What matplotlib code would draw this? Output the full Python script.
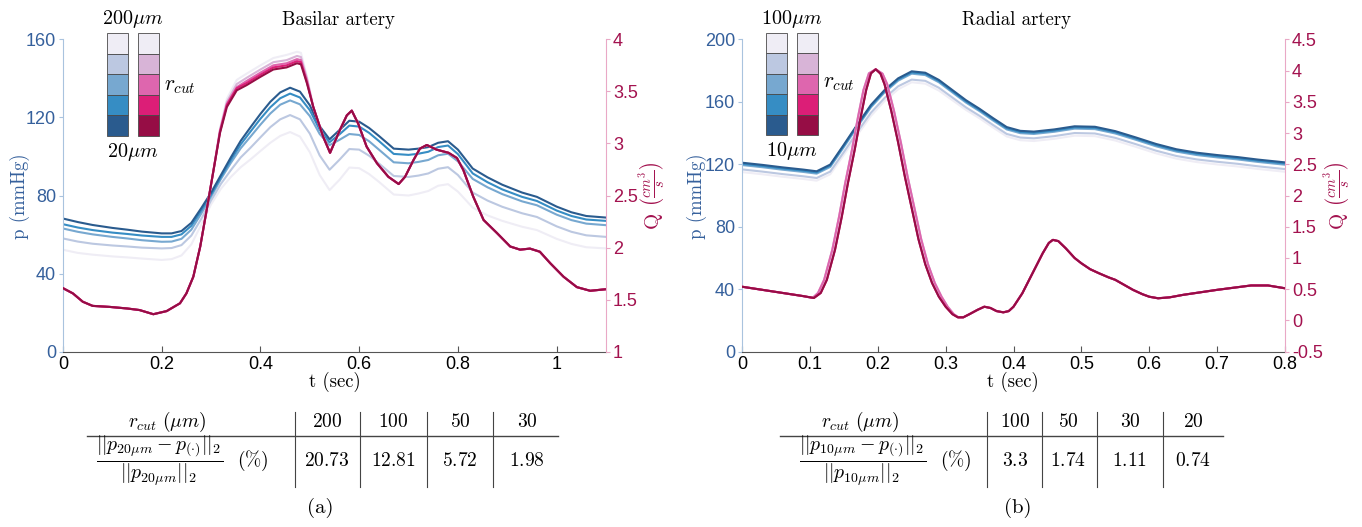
import matplotlib
matplotlib.use("Agg")
import matplotlib.pyplot as plt
from matplotlib.patches import Rectangle
from matplotlib.lines import Line2D
from matplotlib.ticker import FormatStrFormatter

plt.rcParams["mathtext.fontset"] = "cm"
plt.rcParams["font.family"] = "Liberation Sans"
plt.rcParams["lines.solid_joinstyle"] = "round"

W, H = 1362, 527

# ---------------- data : basilar artery (a) ----------------
t_pa = [0, 0.03, 0.06, 0.1, 0.13, 0.16, 0.2, 0.22, 0.24, 0.26, 0.28, 0.3, 0.32, 0.34,
        0.36, 0.38, 0.4, 0.42, 0.44, 0.46, 0.48, 0.5, 0.52, 0.54, 0.56, 0.58, 0.6, 0.62,
        0.64, 0.67, 0.7, 0.72, 0.74, 0.76, 0.78, 0.8, 0.83, 0.86, 0.89, 0.93, 0.96, 1.0,
        1.03, 1.06, 1.1]
p_a_20 = [68.2, 66.4, 64.9, 63.4, 62.5, 61.5, 60.6, 60.6, 61.8, 66.0, 73.5, 81.5, 90.5, 99.5,
          108.0, 115.0, 121.8, 128.0, 132.8, 135.2, 133.2, 126.2, 115.5, 108.8, 113.5, 118.3,
          117.8, 114.6, 110.5, 104.0, 103.5, 104.0, 104.8, 107.0, 107.8, 103.5, 93.8, 89.3,
          85.5, 81.5, 79.3, 74.3, 71.4, 69.5, 68.7]
p_a_30 = [65.3, 63.6, 62.3, 61.0, 60.3, 59.5, 58.8, 58.8, 60.1, 64.5, 72.3, 80.5, 89.5, 98.2,
          106.2, 112.8, 119.3, 125.2, 129.8, 132.2, 130.2, 123.7, 113.7, 107.3, 111.3, 115.8,
          115.3, 112.1, 107.9, 101.3, 100.8, 101.4, 102.4, 104.8, 105.6, 101.2, 91.3, 86.8,
          83.1, 79.3, 77.2, 72.3, 69.5, 67.7, 67.0]
p_a_50 = [63.1, 61.4, 60.1, 58.8, 58.0, 57.1, 56.3, 56.4, 57.8, 62.5, 70.7, 79.5, 88.5, 96.7,
          104.2, 110.2, 116.3, 122.0, 126.5, 128.7, 126.7, 120.7, 111.5, 105.8, 108.5, 111.5,
          111.0, 107.8, 103.5, 97.0, 96.5, 97.2, 98.2, 100.6, 101.4, 97.5, 88.5, 84.2, 80.7,
          77.0, 75.0, 70.2, 67.4, 65.6, 64.8]
p_a_100 = [58.0, 56.4, 55.3, 54.4, 53.9, 53.3, 52.9, 53.1, 54.6, 59.5, 68.0, 77.5, 86.0, 93.0,
           99.5, 104.5, 109.8, 115.0, 119.0, 121.2, 119.0, 111.7, 100.5, 93.2, 98.3, 103.8,
           103.5, 100.4, 96.4, 90.0, 89.5, 90.2, 91.3, 93.7, 94.5, 90.5, 81.5, 77.4, 74.2,
           70.9, 69.0, 64.2, 61.4, 59.6, 58.8]
p_a_200 = [52.2, 50.6, 49.7, 48.8, 48.3, 47.7, 47.0, 47.4, 49.3, 55.0, 65.0, 75.5, 83.5, 89.5,
           94.5, 98.5, 102.8, 107.0, 110.5, 112.5, 110.2, 102.2, 90.5, 82.8, 88.0, 94.3, 94.0,
           91.0, 87.0, 80.5, 80.0, 81.0, 82.3, 85.0, 85.8, 82.0, 73.8, 69.8, 67.0, 64.0, 62.3,
           57.8, 55.2, 53.5, 52.9]

t_qa = [0, 0.02, 0.04, 0.06, 0.095, 0.13, 0.155, 0.183, 0.21, 0.237, 0.25, 0.264, 0.278,
        0.291, 0.305, 0.318, 0.332, 0.352, 0.372, 0.4, 0.426, 0.453, 0.474, 0.482, 0.494,
        0.507, 0.527, 0.541, 0.561, 0.575, 0.585, 0.598, 0.615, 0.636, 0.659, 0.68, 0.693,
        0.71, 0.723, 0.737, 0.757, 0.781, 0.798, 0.811, 0.831, 0.852, 0.879, 0.906, 0.926,
        0.946, 0.966, 0.987, 1.014, 1.041, 1.068, 1.1]
q_a_20 = [1.61, 1.56, 1.48, 1.44, 1.43, 1.415, 1.40, 1.36, 1.39, 1.465, 1.56, 1.72, 2.01,
          2.36, 2.745, 3.10, 3.35, 3.51, 3.56, 3.64, 3.71, 3.73, 3.77, 3.76, 3.58, 3.35, 3.065,
          2.91, 3.13, 3.27, 3.315, 3.19, 2.97, 2.81, 2.68, 2.61, 2.68, 2.84, 2.95, 2.985, 2.94,
          2.91, 2.86, 2.745, 2.49, 2.265, 2.14, 2.01, 1.98, 1.99, 1.96, 1.85, 1.72, 1.62,
          1.585, 1.60]
# systolic plateau (t_qa[15:25]) for the coarser trees
q_a_top_30 = [3.11, 3.37, 3.53, 3.58, 3.66, 3.73, 3.75, 3.79, 3.78, 3.59]
q_a_top_50 = [3.12, 3.38, 3.54, 3.60, 3.68, 3.75, 3.77, 3.81, 3.80, 3.61]
q_a_top_100 = [3.13, 3.40, 3.57, 3.63, 3.71, 3.78, 3.80, 3.84, 3.83, 3.63]
q_a_top_200 = [3.14, 3.43, 3.61, 3.67, 3.75, 3.82, 3.85, 3.88, 3.87, 3.65]

rcut_a = ["200", "100", "50", "30"]
err_a = ["20.73", "12.81", "5.72", "1.98"]

# ---------------- data : radial artery (b) ----------------
t_pb = [0, 0.03, 0.06, 0.09, 0.11, 0.13, 0.15, 0.17, 0.19, 0.21, 0.23, 0.25, 0.27, 0.29,
        0.31, 0.33, 0.35, 0.37, 0.39, 0.41, 0.43, 0.46, 0.49, 0.52, 0.55, 0.58, 0.61, 0.64,
        0.67, 0.7, 0.73, 0.76, 0.8]
p_b_10 = [121.0, 119.6, 118.0, 116.6, 115.5, 119.8, 132.5, 145.5, 158.0, 167.5, 175.0, 179.5,
          178.6, 174.0, 167.5, 161.0, 155.5, 149.5, 143.8, 141.4, 140.9, 142.3, 144.3, 144.0,
          141.2, 137.2, 133.0, 129.6, 127.4, 125.9, 124.6, 123.0, 121.2]
p_b_20 = [120.3, 118.9, 117.3, 115.9, 114.8, 119.1, 131.8, 144.8, 157.3, 166.8, 174.3, 178.8,
          177.9, 173.3, 166.8, 160.3, 154.8, 148.8, 143.1, 140.7, 140.2, 141.6, 143.6, 143.3,
          140.5, 136.5, 132.3, 128.9, 126.7, 125.2, 123.9, 122.3, 120.5]
p_b_30 = [119.5, 118.1, 116.5, 115.1, 114.0, 118.3, 131.0, 144.0, 156.5, 166.0, 173.5, 178.0,
          177.1, 172.5, 166.0, 159.5, 154.0, 148.0, 142.3, 139.9, 139.4, 140.8, 142.8, 142.5,
          139.7, 135.7, 131.5, 128.1, 125.9, 124.4, 123.1, 121.5, 119.7]
p_b_50 = [116.7, 115.3, 113.7, 112.3, 111.2, 115.3, 127.8, 140.7, 153.0, 162.4, 169.9, 174.2,
          173.4, 169.0, 162.7, 156.4, 151.0, 145.1, 139.4, 137.1, 136.6, 138.0, 140.0, 139.7,
          136.9, 132.9, 128.7, 125.3, 123.1, 121.6, 120.3, 118.7, 116.9]
p_b_100 = [115.0, 113.6, 112.0, 110.6, 109.5, 113.6, 126.0, 138.8, 151.0, 160.5, 168.0, 172.5,
           171.6, 167.2, 161.0, 154.8, 149.4, 143.5, 137.8, 135.4, 134.9, 136.3, 138.3, 138.0,
           135.2, 131.2, 127.0, 123.6, 121.4, 119.9, 118.6, 117.0, 115.2]

t_qb = [0, 0.03, 0.06, 0.09, 0.106, 0.116, 0.125, 0.137, 0.147, 0.156, 0.166, 0.175, 0.183,
        0.19, 0.197, 0.204, 0.21, 0.22, 0.23, 0.24, 0.25, 0.26, 0.27, 0.28, 0.29, 0.3, 0.31,
        0.318, 0.326, 0.335, 0.347, 0.357, 0.366, 0.375, 0.385, 0.393, 0.4, 0.413, 0.428,
        0.443, 0.452, 0.458, 0.466, 0.477, 0.49, 0.5, 0.513, 0.526, 0.54, 0.55, 0.563, 0.576,
        0.59, 0.6, 0.613, 0.63, 0.65, 0.675, 0.7, 0.725, 0.75, 0.775, 0.8]
# coarser trees: slightly wider systolic peak
t_qb_wide_head = [0, 0.03, 0.06, 0.09, 0.104, 0.112, 0.121, 0.133, 0.143, 0.152, 0.162, 0.171,
                  0.179, 0.187, 0.197, 0.207, 0.214, 0.224, 0.234, 0.244, 0.254, 0.264, 0.274,
                  0.284, 0.294, 0.303, 0.312, 0.319, 0.326]
q_b_10 = [0.54, 0.49, 0.44, 0.39, 0.36, 0.44, 0.65, 1.13, 1.66, 2.195, 2.73, 3.26, 3.69, 3.955,
          4.02, 3.95, 3.78, 3.35, 2.85, 2.3, 1.8, 1.3, 0.9, 0.6, 0.38, 0.22, 0.1, 0.05, 0.05,
          0.1, 0.17, 0.22, 0.2, 0.15, 0.13, 0.15, 0.22, 0.435, 0.755, 1.075, 1.24, 1.29, 1.27,
          1.155, 1.0, 0.915, 0.82, 0.755, 0.69, 0.65, 0.57, 0.49, 0.42, 0.38, 0.355, 0.37,
          0.41, 0.45, 0.49, 0.525, 0.56, 0.56, 0.515]

rcut_b = ["100", "50", "30", "20"]
err_b = ["3.3", "1.74", "1.11", "0.74"]

# colour ramps, coarse (top of legend) -> fine (bottom)
BLUES = ["#efedf5", "#bcc8e1", "#77a8d0", "#368dc4", "#2a5b8e"]
PINKS = ["#efedf5", "#d8b4d7", "#de66ae", "#dc1e77", "#960d45"]
BLUE_TXT = "#35609c"
BLUE_SPINE = "#a9c3de"
PINK_TXT = "#a3124f"
PINK_SPINE = "#e9a8c6"

CM = "cmr10"
LBL = 13.5


def fx(x):
    return x / W


def fy(y):
    return 1 - y / H


fig = plt.figure(figsize=(W / 100, H / 100), dpi=100)


def make_axes(x0, x1, xlim, xticks, plim, pticks, qlim, qticks):
    ax = fig.add_axes([fx(x0), fy(351.7), fx(x1) - fx(x0), fy(39.3) - fy(351.7)])
    axq = ax.twinx()
    ax.set_xlim(xlim)
    ax.set_ylim(plim)
    axq.set_ylim(qlim)
    ax.set_xticks(xticks)
    ax.set_yticks(pticks)
    axq.set_yticks(qticks)
    ax.xaxis.set_major_formatter(FormatStrFormatter("%g"))
    axq.yaxis.set_major_formatter(FormatStrFormatter("%g"))
    for a in (ax, axq):
        a.spines["top"].set_visible(False)
        a.patch.set_visible(False)
    ax.spines["right"].set_visible(False)
    axq.spines["left"].set_visible(False)
    axq.spines["bottom"].set_visible(False)
    ax.spines["left"].set_color(BLUE_SPINE)
    axq.spines["right"].set_color(PINK_SPINE)
    ax.spines["bottom"].set_color("#555555")
    ax.tick_params(axis="x", direction="in", length=4, color="#555555",
                   labelcolor="black", labelsize=13, pad=3)
    ax.tick_params(axis="y", direction="out", length=3, color=BLUE_SPINE,
                   labelcolor=BLUE_TXT, labelsize=13, pad=2)
    axq.tick_params(axis="y", direction="out", length=3, color=PINK_SPINE,
                    labelcolor=PINK_TXT, labelsize=13, pad=2)
    return ax, axq


def legend_bars(xb, xp, top, bottom, top_label, bottom_label, xr, yr):
    h = (bottom - top) / 5
    for i in range(5):
        y = top + i * h
        for x, cols in ((xb, BLUES), (xp, PINKS)):
            fig.add_artist(Rectangle((fx(x), fy(y + h)), fx(21), h / H,
                                     transform=fig.transFigure, facecolor=cols[i],
                                     edgecolor="#4a4a4a", linewidth=0.6))
    xc = (xb + xp + 21) / 2
    fig.text(fx(xc), fy(top - 14), top_label, ha="center", va="center", fontsize=14.5)
    fig.text(fx(xc), fy(bottom + 16), bottom_label, ha="center", va="center", fontsize=14.5)
    fig.text(fx(xr), fy(yr), r"$r_{cut}$", ha="left", va="center", fontsize=15.5)


def table(x_left, x_right, vlines, xs_head, rcut, errs, sub, frac_x, pct_x):
    fig.add_artist(Line2D([fx(x_left), fx(x_right)], [fy(436), fy(436)],
                          transform=fig.transFigure, color="#444444", lw=1.0))
    for xv in vlines:
        fig.add_artist(Line2D([fx(xv), fx(xv)], [fy(412), fy(487)],
                              transform=fig.transFigure, color="#444444", lw=0.8))
    fig.text(fx(xs_head[0]), fy(422), r"$r_{cut}\ (\mu m)$", ha="center", va="center",
             fontsize=14)
    for xh, r, e in zip(xs_head[1:], rcut, errs):
        fig.text(fx(xh), fy(422), "$" + r + "$", ha="center", va="center", fontsize=14)
        fig.text(fx(xh), fy(461), "$" + e + "$", ha="center", va="center", fontsize=14)
    fig.text(fx(frac_x), fy(461),
             r"$\dfrac{||p_{" + sub + r"\mu m} - p_{(\cdot)}||_2}{||p_{" + sub + r"\mu m}||_2}$",
             ha="center", va="center", fontsize=14.3)
    fig.text(fx(pct_x), fy(461), r"$(\%)$", ha="center", va="center", fontsize=14)


# ---------------- panel (a) ----------------
ax, axq = make_axes(63, 606, (0, 1.1), [0, 0.2, 0.4, 0.6, 0.8, 1],
                    (0, 160), [0, 40, 80, 120, 160], (1, 4), [1, 1.5, 2, 2.5, 3, 3.5, 4])
for p, c in zip([p_a_200, p_a_100, p_a_50, p_a_30, p_a_20], BLUES):
    ax.plot(t_pa, p, color=c, lw=1.5)
q_a_list = [q_a_20[:15] + top + q_a_20[25:] for top in
            (q_a_top_200, q_a_top_100, q_a_top_50, q_a_top_30)] + [q_a_20]
for q, c in zip(q_a_list, PINKS):
    axq.plot(t_qa, q, color=c, lw=1.5)

fig.text(fx(338), fy(20), "Basilar artery", fontfamily=CM, fontsize=LBL,
         ha="center", va="center")
fig.text(fx(335), fy(382), "t (sec)", fontfamily=CM, fontsize=LBL, ha="center", va="center")
fig.text(fx(20), fy(196), "p (mmHg)", fontfamily=CM, fontsize=LBL, color=BLUE_TXT,
         rotation=90, ha="center", va="center")
fig.text(fx(652), fy(196), r"Q $\left(\frac{cm^3}{s}\right)$", fontfamily=CM, fontsize=15,
         color=PINK_TXT, rotation=90, ha="center", va="center")
legend_bars(106.7, 137.5, 33.3, 136, r"$200\mu m$", r"$20\mu m$", 164, 86)
table(87, 558, [295, 360, 427, 493], [167, 327, 393, 460, 527], rcut_a, err_a, "20",
      160, 253)
fig.text(fx(320), fy(508), "(a)", fontfamily=CM, fontsize=15, ha="center", va="center")

# ---------------- panel (b) ----------------
bx, bxq = make_axes(742, 1285, (0, 0.8), [0, 0.1, 0.2, 0.3, 0.4, 0.5, 0.6, 0.7, 0.8],
                    (0, 200), [0, 40, 80, 120, 160, 200], (-0.5, 4.5),
                    [-0.5, 0, 0.5, 1, 1.5, 2, 2.5, 3, 3.5, 4, 4.5])
for p, c in zip([p_b_100, p_b_50, p_b_30, p_b_20, p_b_10], BLUES):
    bx.plot(t_pb, p, color=c, lw=1.5)
t_qb_wide = t_qb_wide_head + t_qb[29:]
for tt, c in zip([t_qb_wide, t_qb_wide, t_qb_wide, t_qb, t_qb], PINKS):
    bxq.plot(tt, q_b_10, color=c, lw=1.5)

fig.text(fx(1016), fy(20), "Radial artery", fontfamily=CM, fontsize=LBL,
         ha="center", va="center")
fig.text(fx(1013), fy(382), "t (sec)", fontfamily=CM, fontsize=LBL, ha="center", va="center")
fig.text(fx(697), fy(196), "p (mmHg)", fontfamily=CM, fontsize=LBL, color=BLUE_TXT,
         rotation=90, ha="center", va="center")
fig.text(fx(1337), fy(196), r"Q $\left(\frac{cm^3}{s}\right)$", fontfamily=CM, fontsize=15,
         color=PINK_TXT, rotation=90, ha="center", va="center")
legend_bars(766, 796.5, 32.7, 135, r"$100\mu m$", r"$10\mu m$", 823, 83)
table(780, 1223, [987, 1042, 1097, 1163], [860, 1015, 1068, 1130, 1193], rcut_b, err_b, "10",
      863, 956)
fig.text(fx(1018), fy(508), "(b)", fontfamily=CM, fontsize=15, ha="center", va="center")

fig.savefig("out.png", dpi=100)
